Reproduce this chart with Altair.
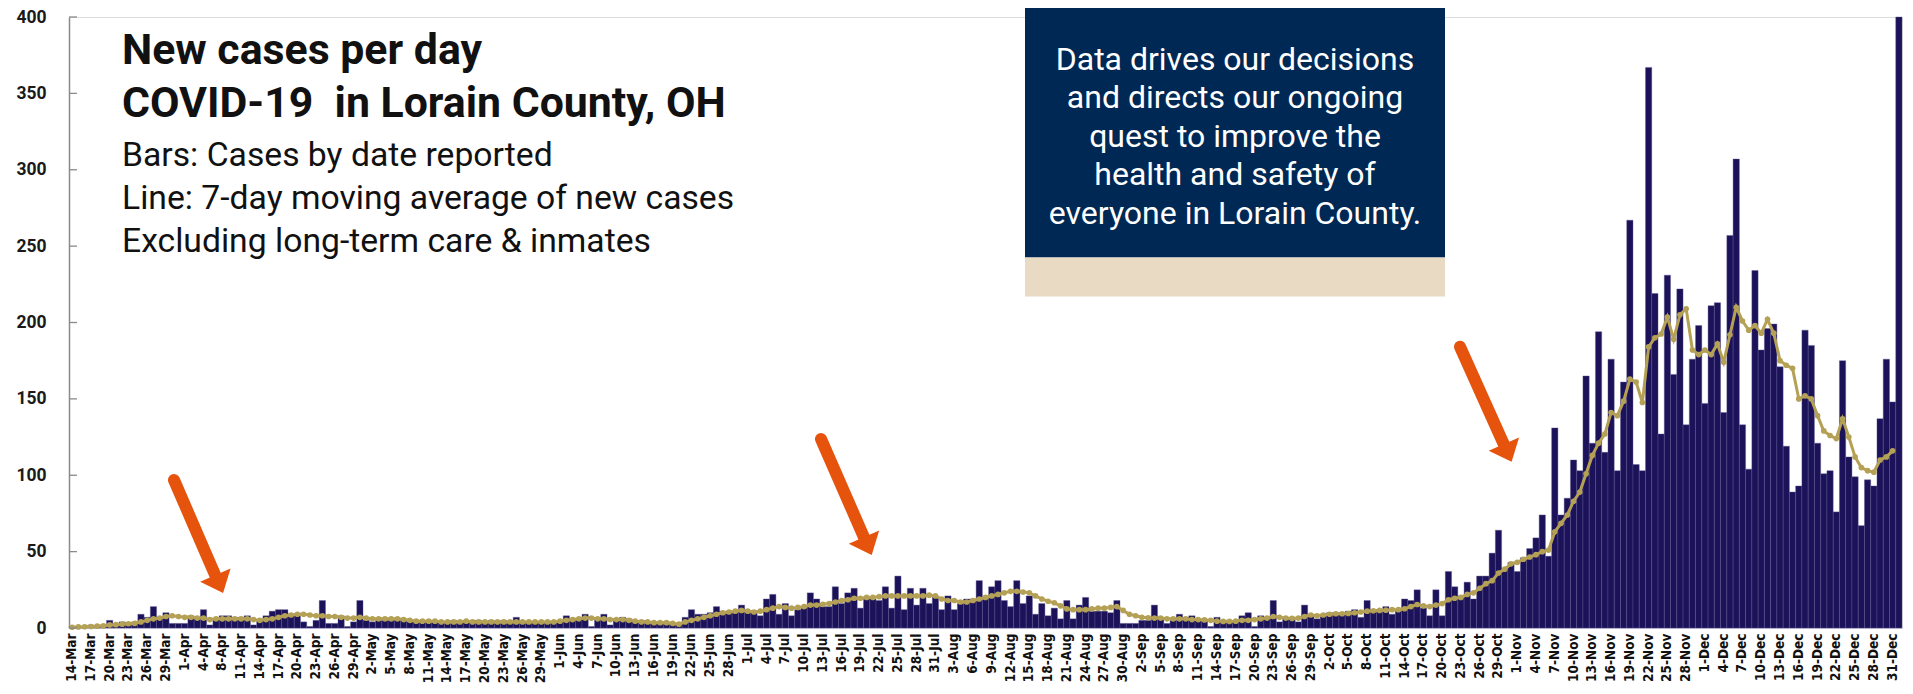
import altair as alt
import pandas as pd

# ---- categories (one missing day in early April, as on the reference axis) ----
dates = pd.date_range("2020-03-14", "2021-01-01", freq="D")
dates = dates[dates != pd.Timestamp("2020-04-05")]
day_labels = [f"{d.day}-{d.strftime('%b')}" for d in dates]
tick_labels = day_labels[::3]

# ---- daily new cases (bars) ----
cases = [
    1, 1, 1, 2, 1, 2, 5, 2, 4, 3,
    4, 9, 7, 14, 7, 10, 3, 3, 3, 8,
    6, 12, 2, 6, 8, 8, 7, 7, 8, 2,
    5, 8, 11, 12, 12, 9, 8, 4, 1, 5,
    18, 3, 3, 8, 1, 4, 18, 5, 4, 5,
    5, 5, 6, 5, 4, 5, 4, 4, 5, 4,
    4, 5, 4, 5, 5, 5, 4, 5, 4, 5,
    4, 7, 4, 4, 4, 4, 4, 4, 5, 8,
    6, 6, 9, 1, 6, 9, 2, 6, 7, 6,
    4, 5, 4, 4, 4, 4, 3, 3, 7, 12,
    9, 9, 10, 14, 11, 11, 11, 15, 11, 11,
    8, 19, 22, 9, 16, 8, 12, 13, 23, 19,
    14, 14, 27, 16, 23, 26, 13, 19, 19, 18,
    27, 13, 34, 12, 26, 15, 26, 16, 21, 12,
    21, 12, 16, 19, 19, 31, 19, 27, 31, 18,
    14, 31, 16, 21, 9, 16, 8, 13, 6, 18,
    6, 15, 20, 11, 11, 11, 10, 18, 3, 3,
    3, 5, 5, 15, 6, 3, 5, 9, 7, 8,
    5, 5, 1, 7, 5, 5, 4, 8, 10, 1,
    8, 7, 18, 4, 6, 6, 4, 15, 8, 6,
    9, 10, 10, 10, 11, 12, 7, 18, 12, 12,
    14, 9, 11, 19, 18, 25, 13, 8, 25, 8,
    37, 27, 21, 30, 19, 34, 34, 49, 64, 39,
    43, 37, 46, 52, 59, 74, 47, 131, 74, 85,
    110, 103, 165, 121, 194, 115, 176, 103, 161, 267,
    107, 103, 367, 219, 127, 231, 166, 222, 133, 176,
    198, 147, 211, 213, 141, 257, 307, 133, 104, 234,
    182, 196, 199, 171, 119, 89, 93, 195, 185, 121,
    101, 103, 76, 175, 112, 99, 67, 97, 93, 137,
    176, 148, 400,
]

# ---- 7-day moving average line ----
moving_avg = [
    0.5, 0.7, 0.8, 1, 1.2, 1.5, 2, 2.2, 2.5, 2.8,
    3, 4, 5, 6, 6.5, 7.5, 8, 7.5, 7, 7,
    6.5, 6.5, 5.5, 6, 6, 6, 6, 6, 6, 5.5,
    5, 5.5, 6, 7, 8, 8.5, 9, 9, 8.5, 8,
    8, 7.5, 7.5, 7, 6.5, 6.5, 7, 6.5, 6, 6,
    6, 6, 6, 5.5, 5, 4.5, 4.5, 4.5, 4.5, 4,
    4, 4, 4, 4.5, 4, 4, 4, 4, 4, 4,
    4, 4, 4, 4, 4, 4, 4, 4, 4.5, 5,
    5.5, 6, 6.5, 6.5, 6, 6, 5.5, 5.5, 5.5, 5,
    4.5, 4, 4, 3.5, 3.5, 3.5, 3, 2.5, 4, 5,
    6, 7, 8, 9, 10, 10.5, 11, 11.5, 11, 10.5,
    11, 12, 13, 14, 13.5, 13, 13.5, 14, 15, 15,
    15.5, 16, 17, 18, 18.5, 19.5, 19.5, 20, 20, 20.5,
    21, 21, 21, 21, 21, 21, 21, 21.5, 21, 19,
    18, 18, 17, 17, 18, 19, 20, 21, 22, 23,
    24, 24, 23.5, 23, 21, 19, 17.5, 16.5, 14.5, 12.5,
    12, 12, 12, 12.5, 13, 13, 13.5, 14, 11.5, 9,
    8, 7, 6.7, 6.5, 6.5, 6, 6, 6, 6, 5.5,
    5.5, 5.3, 5, 4.5, 4.3, 4.3, 4.5, 5, 5, 5.5,
    6, 6.5, 7.5, 7, 6.5, 6.3, 6.5, 7.5, 8.5, 8,
    8.5, 9, 9.3, 9.3, 9.5, 10, 10.5, 11, 11.3, 11.5,
    11.7, 12, 12, 12.6, 14, 15.4, 14.5, 14, 15, 16,
    18.5, 19.5, 20, 22, 23, 26, 29, 31, 36, 38.5,
    42, 43, 45, 46.5, 48, 50, 51, 63, 68.5, 74,
    83, 89, 101, 113, 121, 127, 141, 139, 148.5, 163,
    161, 147.6, 184, 190, 192.5, 203.5, 189, 205, 209, 182,
    179, 182, 179, 186, 174, 192, 210, 201, 195, 198,
    193, 202, 193, 175, 172, 170, 150, 152, 150, 139,
    129, 126, 124, 137, 125, 112, 105, 103, 102, 110,
    112, 116, None,
]

y_ticks = [0, 50, 100, 150, 200, 250, 300, 350, 400]

title_bold = ["New cases per day", "COVID-19\u00a0 in Lorain County, OH"]
title_regular = [
    "Bars: Cases by date reported",
    "Line: 7-day moving average of new cases",
    "Excluding long-term care & inmates",
]
box_lines = [
    "Data drives our decisions",
    "and directs our ongoing",
    "quest to improve the",
    "health and safety of",
    "everyone in Lorain County.",
]

BAR = "#1b1259"
GOLD = "#b5a155"
ORANGE = "#e5530d"
NAVY = "#002855"
BEIGE = "#e9dac4"

df = pd.DataFrame({"day": day_labels, "cases": cases, "ma": moving_avg})

x_axis = alt.Axis(
    values=tick_labels,
    labelAngle=270,
    labelFont="DejaVu Sans Condensed",
    labelFontWeight="bold",
    labelFontSize=13.5,
    labelColor="#111111",
    labelPadding=5,
    labelOverlap=False,
    ticks=False,
    domainColor="#c9c7dc",
    domainWidth=1,
    title=None,
)
x_scale = alt.Scale(domain=day_labels, paddingInner=0, paddingOuter=0)

y_axis = alt.Axis(
    values=y_ticks,
    grid=False,
    ticks=False,
    labelFont="Roboto",
    labelFontWeight="bold",
    labelFontSize=17.5,
    labelColor="#1a1a1a",
    labelPadding=23,
    domainColor="#8a8a8a",
    domainWidth=1.5,
    title=None,
)
y_scale = alt.Scale(domain=[0, 400], nice=False)

bars = alt.Chart(df).mark_bar(color=BAR, stroke="#5d5890", strokeWidth=0.4).encode(
    x=alt.X("day:N", sort=day_labels, scale=x_scale, axis=x_axis),
    y=alt.Y("cases:Q", scale=y_scale, axis=y_axis),
)

line = alt.Chart(df).mark_line(
    color=GOLD, strokeWidth=3,
    point=alt.OverlayMarkDef(filled=True, color=GOLD, size=32, opacity=1),
).encode(
    x=alt.X("day:N", sort=day_labels, scale=x_scale, axis=x_axis),
    y=alt.Y("ma:Q", scale=y_scale, axis=y_axis),
)

tick_df = pd.DataFrame({"t": y_ticks})
inner_ticks = alt.Chart(tick_df).mark_rule(color="#8a8a8a", strokeWidth=1.3).encode(
    y=alt.Y("t:Q", scale=y_scale, axis=y_axis),
    x=alt.value(0),
    x2=alt.value(8),
)

one = pd.DataFrame({"k": [0]})

# plot area top sits at page y = 17; offsets below are relative to it
navy_box = alt.Chart(one).mark_rect(color=NAVY).encode(
    x=alt.value(956), x2=alt.value(1376), y=alt.value(-18), y2=alt.value(240.5)
)
beige_box = alt.Chart(one).mark_rect(color=BEIGE).encode(
    x=alt.value(956), x2=alt.value(1376), y=alt.value(240.5), y2=alt.value(279.5)
)
box_text = alt.Chart(one).mark_text(
    font="Roboto", fontSize=32, color="white", align="center",
    baseline="alphabetic", lineBreak="\n", lineHeight=38.5,
).encode(x=alt.value(1166), y=alt.value(52.5), text=alt.value("\n".join(box_lines)))

title_b = alt.Chart(one).mark_text(
    font="Roboto", fontSize=42.8, fontWeight="bold", color="#111111", align="left",
    baseline="alphabetic", lineBreak="\n", lineHeight=52.6,
).encode(x=alt.value(53), y=alt.value(47), text=alt.value("\n".join(title_bold)))

title_r = alt.Chart(one).mark_text(
    font="Roboto", fontSize=33.7, color="#111111", align="left",
    baseline="alphabetic", lineBreak="\n", lineHeight=43.3,
).encode(x=alt.value(53), y=alt.value(148.5), text=alt.value("\n".join(title_regular)))

# arrows: shaft (rule) + head (custom triangle symbol), pixel positions in the plot area
arrow_shafts = [
    (105, 463.0, 146.3, 558.3),
    (752, 422.0, 795.0, 520.3),
    (1391, 329.7, 1434.8, 427.2),
]
arrow_heads = [(150.0, 566.6), (798.6, 528.6), (1438.5, 435.4)]

arrow_layers = []
for (x1, y1, x2, y2), (hx, hy) in zip(arrow_shafts, arrow_heads):
    arrow_layers.append(
        alt.Chart(one).mark_rule(color=ORANGE, strokeWidth=12, strokeCap="round").encode(
            x=alt.value(x1), y=alt.value(y1), x2=alt.value(x2), y2=alt.value(y2)
        )
    )
    arrow_layers.append(
        alt.Chart(one).mark_point(
            shape="M-1,-0.55L0,0.62L1,-0.55Z", filled=True, color=ORANGE,
            opacity=1, size=1100, angle=336.5, strokeWidth=0,
        ).encode(x=alt.value(hx), y=alt.value(hy))
    )

chart = alt.layer(
    bars, line, inner_ticks, navy_box, beige_box, box_text, title_b, title_r, *arrow_layers
).properties(
    width=1833,
    height=611,
    padding={"left": 61, "top": 9, "right": 2, "bottom": 57},
    autosize="none",
).configure_view(stroke=None).configure(background="white")

chart.save("out.html", embed_options={"renderer": "svg", "actions": False})
